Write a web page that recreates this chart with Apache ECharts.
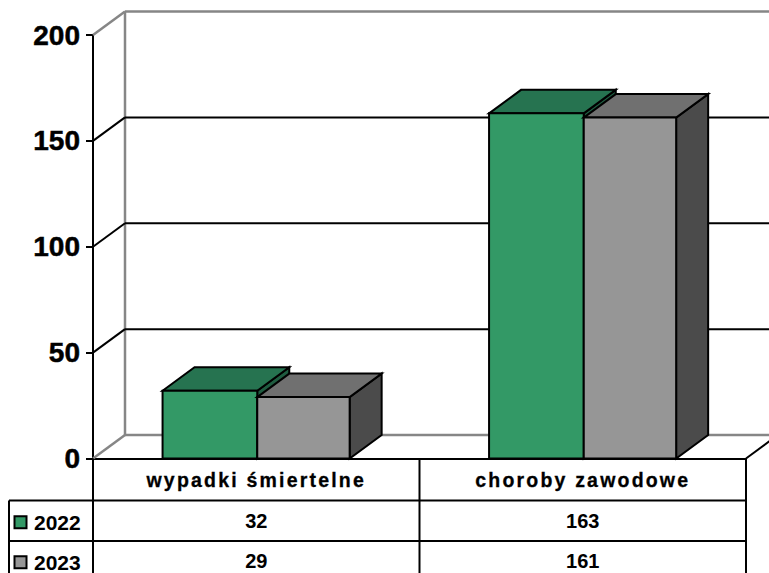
<!DOCTYPE html>
<html><head><meta charset="utf-8">
<style>html,body{margin:0;padding:0;background:#fff}#c{width:769px;height:573px}
#c svg text[style*="19.5px"]{letter-spacing:2.2px}</style>
<script src="https://cdn.jsdelivr.net/npm/echarts@6/dist/echarts.min.js"></script>
</head><body><div id="c"></div>
<script>
const categories = ['wypadki śmiertelne', 'choroby zawodowe'];
const seriesNames = ['2022', '2023'];
const values2022 = [32, 163];
const values2023 = [29, 161];
const yTicks = [0, 50, 100, 150, 200];
const faces2022 = {front:'#339966', top:'#267350', side:'#1f5c40'};
const faces2023 = {front:'#969696', top:'#707070', side:'#4b4b4b'};
const L=93,R=23,T=35,B=114.5,DX=32,DY=23.5,W=769,H=573;
const BAR=[0.29,0.283], font='"Liberation Sans",Arial,sans-serif';
const rows=[H-B, 500.5, 541];
const chart=echarts.init(document.getElementById('c'),null,{renderer:'svg'});
const line=(x1,y1,x2,y2,c,w)=>({type:'line',shape:{x1,y1,x2,y2},style:{stroke:c,lineWidth:w}});
function wall(params,api){
  const v=api.value(0), p=api.coord([0,v]);
  const y=p[1], right=W-R;
  const grey=(v===0||v===200);
  const c=grey?'#868686':'#000', w=grey?2.5:2;
  const ch=[line(L,y,L+DX,y-DY,c,w), line(L+DX,y-DY,W,y-DY,c,w)];
  if(v===0){
    ch.push(line(L+DX,y-DY,L+DX,api.coord([0,200])[1]-DY,'#868686',2.5));
    ch.push(line(right,y,right+DX,y-DY,'#000',2));
  }
  return {type:'group',children:ch};
}
function bar(faces,k){
  return function(params,api){
    const i=api.value(0), v=api.value(1);
    const c=api.coord([i,v]), z=api.coord([i,0]);
    const bw=api.size([1,0])[0]*BAR[k];
    const mid=c[0]+1;
    const x0=k===0?mid-bw:mid, x1=x0+bw, y=c[1], b=z[1];
    const st=f=>({fill:f,stroke:'#000',lineWidth:2,lineJoin:'miter'});
    return {type:'group',children:[
      {type:'polygon',shape:{points:[[x1,y],[x1+DX,y-DY],[x1+DX,b-DY],[x1,b]]},style:st(faces.side)},
      {type:'polygon',shape:{points:[[x0,y],[x0+DX,y-DY],[x1+DX,y-DY],[x1,y]]},style:st(faces.top)},
      {type:'rect',shape:{x:x0,y:y,width:bw,height:b-y},style:st(faces.front)}
    ]};
  };
}
const colX=[L, L+(W-R-L)/2, W-R], tx=(i)=>(colX[i]+colX[i+1])/2;
const g=[];
g.push(line(9,rows[1],W-R,rows[1],'#000',2), line(9,rows[2],W-R,rows[2],'#000',2));
g.push(line(9,rows[1],9,H,'#000',2), line(colX[1],rows[0],colX[1],H,'#000',2), line(colX[2],rows[0],colX[2],H,'#000',2), line(L,rows[0],L,H,'#000',2));
[[seriesNames[0],values2022,faces2022],[seriesNames[1],values2023,faces2023]].forEach((r,k)=>{
  const cy=k===0?520.7:560.7;
  g.push({type:'rect',shape:{x:14.5,y:cy-4.5,width:12,height:12},style:{fill:r[2].front,stroke:'#000',lineWidth:2}});
  g.push({type:'text',style:{x:34,y:cy+1.5,text:r[0],font:'bold 21px '+font,lineHeight:20,fill:'#000',textAlign:'left',textVerticalAlign:'middle'}});
  r[1].forEach((v,i)=>g.push({type:'text',style:{x:tx(i),y:cy,text:String(v),font:'bold 20px '+font,lineHeight:20,fill:'#000',textAlign:'center',textVerticalAlign:'middle'}}));
});
chart.setOption({
  animation:false,
  grid:{left:L,right:R,top:T,bottom:B,containLabel:false},
  xAxis:{type:'category',data:categories,boundaryGap:true,
    axisLine:{lineStyle:{color:'#000',width:2}},axisTick:{show:false},
    axisLabel:{fontFamily:font,fontWeight:'bold',fontSize:19.5,color:'#000',margin:11,interval:0,textBorderColor:'#000',textBorderWidth:0.3}},
  yAxis:{type:'value',min:0,max:200,interval:50,
    axisLine:{show:true,lineStyle:{color:'#000',width:2}},
    axisTick:{show:true,length:7,lineStyle:{color:'#000',width:2}},
    splitLine:{show:false},
    axisLabel:{fontFamily:font,fontWeight:'bold',fontSize:28,color:'#000',margin:13,textBorderColor:'#000',textBorderWidth:0.5,padding:[0,0,3,0]}},
  graphic:g.map(e=>Object.assign(e,{z:10})),
  series:[
    {type:'custom',name:'wall',data:yTicks.map(v=>[v]),encode:{y:0},renderItem:wall,clip:false,z:1,silent:true},
    {type:'custom',name:seriesNames[0],data:values2022.map((v,i)=>[i,v]),encode:{x:0,y:1},renderItem:bar(faces2022,0),clip:false,z:2},
    {type:'custom',name:seriesNames[1],data:values2023.map((v,i)=>[i,v]),encode:{x:0,y:1},renderItem:bar(faces2023,1),clip:false,z:3}
  ]
});
</script></body></html>
